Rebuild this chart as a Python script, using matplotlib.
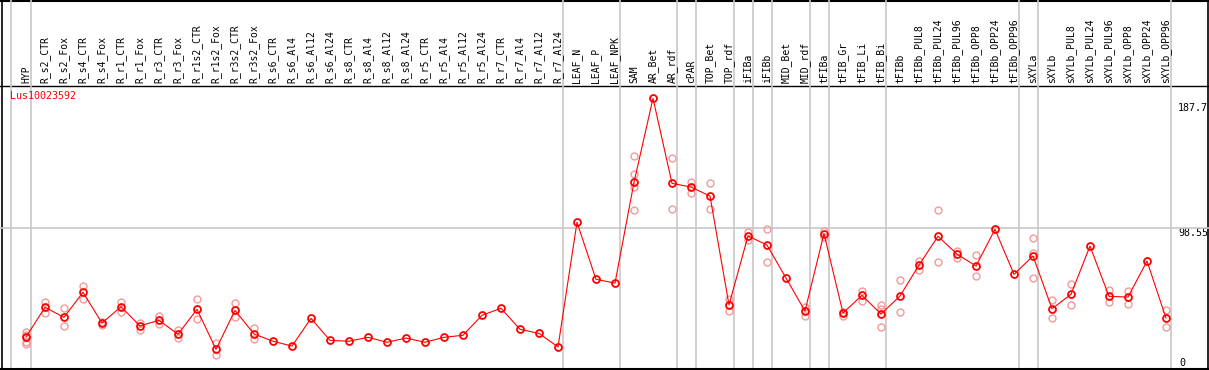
import matplotlib.pyplot as plt

# Etiquetas de las columnas (muestras)
etiquetas = ["HYP", "R_s2_CTR", "R_s2_Fox", "R_s4_CTR", "R_s4_Fox", "R_r1_CTR",
             "R_r1_Fox", "R_r3_CTR", "R_r3_Fox", "R_r1s2_CTR", "R_r1s2_Fox",
             "R_r3s2_CTR", "R_r3s2_Fox", "R_s6_CTR", "R_s6_Al4", "R_s6_Al12",
             "R_s6_Al24", "R_s8_CTR", "R_s8_Al4", "R_s8_Al12", "R_s8_Al24",
             "R_r5_CTR", "R_r5_Al4", "R_r5_Al12", "R_r5_Al24", "R_r7_CTR",
             "R_r7_Al4", "R_r7_Al12", "R_r7_Al24", "LEAF_N", "LEAF_P", "LEAF_NPK",
             "SAM", "AR_Bet", "AR_rdf", "cPAR", "TOP_Bet", "TOP_rdf", "iFIBa",
             "iFIBb", "MID_Bet", "MID_rdf", "tFIBa", "tFIB_Gr", "tFIB_Li",
             "tFIB_Bi", "tFIBb", "tFIBb_PUL8", "tFIBb_PUL24", "tFIBb_PUL96",
             "tFIBb_OPP8", "tFIBb_OPP24", "tFIBb_OPP96", "sXYLa", "sXYLb",
             "sXYLb_PUL8", "sXYLb_PUL24", "sXYLb_PUL96", "sXYLb_OPP8",
             "sXYLb_OPP24", "sXYLb_OPP96"]

# Valores medios
medias = [24.0, 44.4, 37.5, 54.7, 33.6, 44.8, 31.6, 35.5, 25.9, 43.0, 15.6,
          42.3, 26.1, 21.1, 17.8, 36.8, 21.7, 21.1, 23.8, 20.4, 23.3, 20.4,
          23.8, 25.2, 38.9, 43.7, 29.3, 26.5, 17.2, 102.7, 63.6, 61.0, 130.1,
          187.7, 129.4, 126.9, 120.7, 46.0, 93.3, 87.1, 64.5, 41.8, 94.9, 40.5,
          52.6, 39.8, 52.1, 73.4, 93.1, 80.9, 72.7, 97.9, 67.0, 79.6, 43.4,
          53.3, 86.4, 51.9, 51.4, 76.1, 37.0]

# Replicas de cada muestra (vacio si no hay)
replicas = [[27.4, 25.4, 20.6, 19.2], [48.2, 40.7], [43.7, 31.3], [59.0, 50.3],
            [34.5, 32.2], [48.0, 41.4], [33.8, 28.8], [38.2, 32.9], [28.6, 23.3],
            [50.1, 36.1], [20.1, 11.7], [47.3, 37.5], [30.2, 22.4], [], [], [],
            [], [], [], [], [], [], [], [], [], [], [], [], [], [], [], [],
            [147.9, 135.6, 127.1, 111.1], [], [146.6, 111.6], [130.5, 122.6],
            [129.4, 111.6], [50.1, 41.6], [96.0, 90.5], [97.9, 75.4], [],
            [44.8, 38.4], [96.9, 92.8], [41.2, 38.4], [55.8, 48.9],
            [46.0, 43.0, 30.9], [63.1, 41.2], [76.3, 70.0], [110.9, 75.4],
            [83.0, 78.4], [80.3, 65.8], [], [], [91.7, 81.8, 64.3], [49.2, 36.8],
            [60.2, 45.8], [], [56.2, 47.8], [55.6, 46.8], [], [42.5, 30.7]]

# Ultima columna de cada grupo (para las lineas grises)
fin_grupo = [0, 28, 31, 34, 35, 37, 38, 39, 41, 42, 45, 52, 53, 60]

titulo = "Lus10023592"
valor_max = 187.7
valor_medio = 98.55

W = 1209
H = 370
fuente = "DejaVu Sans Mono"

fig = plt.figure(figsize=(W / 100, H / 100), dpi=100)

# Fondo en pixeles para los bordes
fondo = fig.add_axes([0, 0, 1, 1])
fondo.set_xlim(0, W)
fondo.set_ylim(H, 0)
fondo.axis("off")

# Cabecera con las etiquetas
cab = fig.add_axes([0, (H - 86) / H, 1, 86 / H])
cab.set_xlim(-26 / 19, (W - 26) / 19)
cab.set_ylim(86, 0)
cab.axis("off")

# Zona del grafico
ax = fig.add_axes([0, (H - 368) / H, 1, (368 - 86) / H])
ax.set_xlim(-26 / 19, (W - 26) / 19)
ax.set_ylim(2.75, 196.2)
ax.axis("off")

x = list(range(len(etiquetas)))

for a in [ax, cab]:
    a.axvline(-0.79, color="#c8c8c8", lw=1.2, zorder=0)
    for f in fin_grupo:
        a.axvline(f + 0.24, color="#c8c8c8", lw=1.2, zorder=0)

ax.axhline(valor_medio, color="#c8c8c8", lw=1.2, zorder=0)

for i, lab in enumerate(etiquetas):
    cab.text(i, 83, lab, rotation=90, ha="center", va="bottom",
             family=fuente, fontsize=7, color="black")

# Replicas
for i, reps in enumerate(replicas):
    if reps:
        ax.plot([i] * len(reps), reps, "o", ms=5, mfc="none", mec="#f29a9a",
                mew=1.0, zorder=2, clip_on=False)

# Medias
ax.plot(x, medias, "-", color="red", lw=0.8, zorder=3)
ax.plot(x, medias, "o", ms=5, mfc="none", mec="red", mew=1.3, zorder=4,
        clip_on=False)

ax.text(0.008, 0.965, titulo, transform=ax.transAxes, color="red",
        family=fuente, fontsize=7.2, va="center", ha="left")

# Etiquetas de la escala a la derecha
fondo.text(1178, 103, str(valor_max), ha="left", va="top", family=fuente,
           fontsize=7.2)
fondo.text(1178, 228, str(valor_medio), ha="left", va="top", family=fuente,
           fontsize=7.2)
fondo.text(1179, 358, "0", ha="left", va="top", family=fuente, fontsize=7.2)

# Bordes negros
fondo.plot([0, W], [0.5, 0.5], color="black", lw=1.5)
fondo.plot([0, W], [85.5, 85.5], color="black", lw=1.0)
fondo.plot([0, W], [368.5, 368.5], color="black", lw=1.5)
fondo.plot([1.5, 1.5], [0, 369], color="black", lw=1.2)
fondo.plot([1207.5, 1207.5], [0, 369], color="black", lw=1.2)

fig.savefig("out.png", dpi=100)
